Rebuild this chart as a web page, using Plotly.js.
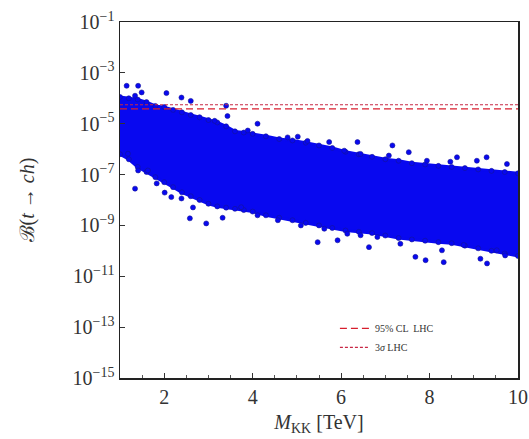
<!DOCTYPE html>
<html>
<head>
<meta charset="utf-8">
<script src="https://cdn.plot.ly/plotly-3.0.1.min.js"></script>
<style>html,body{margin:0;padding:0;background:#fff;}#chart{width:529px;height:439px;}</style>
</head>
<body>
<div id="chart"></div>
<script>
// Dense core of the scan: upper and lower edge of the point cloud
const coreX = [1.0,1.2,1.4,1.6,1.8,2.0,2.2,2.4,2.6,2.8,3.0,3.2,3.4,3.6,3.8,4.0,4.3,4.6,4.9,5.2,5.5,5.8,6.1,6.4,6.7,7.0,7.3,7.6,7.9,8.2,8.5,8.8,9.1,9.4,9.7,10.0];
const coreUpper = [1.12e-4,1.0e-4,8.9e-5,7.1e-5,5.0e-5,4.5e-5,3.5e-5,2.8e-5,2.2e-5,1.8e-5,1.4e-5,1.12e-5,7.9e-6,5.0e-6,4.5e-6,4.0e-6,3.2e-6,2.5e-6,2.2e-6,1.8e-6,1.4e-6,1.12e-6,7.9e-7,6.3e-7,5.0e-7,4.0e-7,3.5e-7,2.8e-7,2.5e-7,2.2e-7,2.0e-7,1.8e-7,1.6e-7,1.4e-7,1.26e-7,1.12e-7];
const coreLower = [6.3e-7,4.0e-7,2.0e-7,1.26e-7,7.9e-8,5.0e-8,3.2e-8,2.0e-8,1.4e-8,1.0e-8,7.1e-9,5.6e-9,5.0e-9,4.5e-9,4.0e-9,3.5e-9,2.5e-9,2.0e-9,1.6e-9,1.26e-9,1.0e-9,7.9e-10,6.3e-10,5.6e-10,5.0e-10,4.0e-10,3.2e-10,2.8e-10,2.5e-10,2.2e-10,2.0e-10,1.6e-10,1.26e-10,1.0e-10,7.9e-11,6.3e-11];

// Scattered fringe points
const fringeX = [1.15,1.41,2.05,2.39,2.60,1.49,1.34,3.40,3.43,3.14,1.34,1.41,1.83,1.63,2.58,2.95,3.32,2.65,2.01,2.16,1.18,2.39,3.74,
  4.11,3.89,4.79,5.02,5.24,5.73,6.37,6.07,5.47,5.92,6.63,4.11,4.57,5.62,6.14,6.44,5.09,6.44,
  7.16,7.53,8.62,9.07,9.29,9.75,8.47,7.94,7.08,7.68,7.91,8.32,8.28,9.15,9.30,7.34,8.77,9.71,9.52,6.82];
const fringeY = [3.1e-4,3.1e-4,1.6e-4,1.07e-4,7.9e-5,1.7e-4,1.26e-4,5.1e-5,2.0e-5,1.3e-5,2.8e-8,1.45e-7,4.5e-8,1.45e-7,1.9e-9,1.2e-9,2.0e-9,5.1e-9,1.95e-8,1.3e-8,6.6e-7,1.15e-8,5.2e-9,
  1.0e-5,5.4e-6,2.9e-6,3.1e-6,2.1e-6,1.9e-6,1.9e-6,8.7e-7,2.2e-10,2.6e-10,1.4e-10,2.5e-9,1.6e-9,7.4e-10,4.7e-10,4.1e-10,1.0e-9,6.5e-7,
  1.4e-6,7.6e-7,4.8e-7,3.5e-7,4.8e-7,2.6e-7,3.2e-7,3.5e-7,5.6e-7,5.8e-11,4.3e-11,3.6e-11,1.05e-10,4.9e-11,3.2e-11,1.9e-10,1.7e-10,6.6e-11,1.05e-10,3.5e-10];

// LHC limits
const limitNames = ['95% CL  LHC', '3<i>σ</i> LHC'];
const limitValues = [3.8e-5, 5.6e-5];
const xRange = [1, 10];

const yTickVals = [1e-15,1e-13,1e-11,1e-9,1e-7,1e-5,1e-3,1e-1];
const yTickText = ['10<sup>−15</sup>','10<sup>−13</sup>','10<sup>−11</sup>','10<sup>−9</sup>','10<sup>−7</sup>','10<sup>−5</sup>','10<sup>−3</sup>','10<sup>−1</sup>'];
const xTickVals = [2,4,6,8,10];

const blue = 'rgb(8,8,240)';
const polyX = coreX.concat(coreX.slice().reverse());
const polyY = coreUpper.concat(coreLower.slice().reverse());
const dot = {size: 5, color: blue, line: {color: 'rgb(20,20,150)', width: 0.6}};

const traces = [
  {x: polyX, y: polyY, type: 'scatter', mode: 'lines', fill: 'toself', fillcolor: blue,
   line: {color: blue, width: 3}, showlegend: false, hoverinfo: 'skip'},
  {x: coreX, y: coreUpper, type: 'scatter', mode: 'markers', showlegend: false, marker: dot},
  {x: coreX, y: coreLower, type: 'scatter', mode: 'markers', showlegend: false, marker: dot},
  {x: fringeX, y: fringeY, type: 'scatter', mode: 'markers', showlegend: false, marker: dot},
  {x: xRange, y: [limitValues[0], limitValues[0]], type: 'scatter', mode: 'lines', name: limitNames[0],
   line: {color: 'rgb(215,30,45)', width: 1.3, dash: '7px,4px'}},
  {x: xRange, y: [limitValues[1], limitValues[1]], type: 'scatter', mode: 'lines', name: limitNames[1],
   line: {color: 'rgb(200,40,70)', width: 1.1, dash: '3px,2px'}}
];

const serif = 'Liberation Serif, Times New Roman, serif';
const layout = {
  width: 529, height: 439,
  margin: {l: 120, r: 11, t: 22, b: 61},
  paper_bgcolor: '#fff', plot_bgcolor: '#fff',
  font: {family: serif, color: '#222'},
  xaxis: {
    range: xRange, tickvals: xTickVals, ticks: 'inside', ticklen: 5, tickwidth: 1,
    tickcolor: '#333', showgrid: false, zeroline: false,
    showline: true, linecolor: '#222', linewidth: 1.5, mirror: true,
    minor: {dtick: 0.5, ticks: 'inside', ticklen: 3, tickcolor: '#555'},
    tickfont: {size: 20, family: serif, color: '#333'},
    title: {text: '<i>M</i><sub>KK</sub> [TeV]', font: {size: 20, family: serif, color: '#333'}, standoff: 8}
  },
  yaxis: {
    type: 'log', range: [-15, -1], tickvals: yTickVals, ticktext: yTickText,
    ticks: 'inside', ticklen: 5, tickcolor: '#333', showgrid: false, zeroline: false,
    showline: true, linecolor: '#222', linewidth: 1.5, mirror: true,
    tickfont: {size: 20, family: serif, color: '#333'},
    title: {text: 'ℬ(<i>t</i> → <i>ch</i>)', font: {size: 20, family: serif, color: '#333'}, standoff: 32}
  },
  legend: {x: 0.54, y: 0.18, xanchor: 'left', yanchor: 'top', bgcolor: 'rgba(0,0,0,0)',
    font: {size: 10, family: serif, color: '#333'}, tracegroupgap: 2},
  showlegend: true
};

Plotly.newPlot('chart', traces, layout, {displayModeBar: false, staticPlot: true});
</script>
</body>
</html>
